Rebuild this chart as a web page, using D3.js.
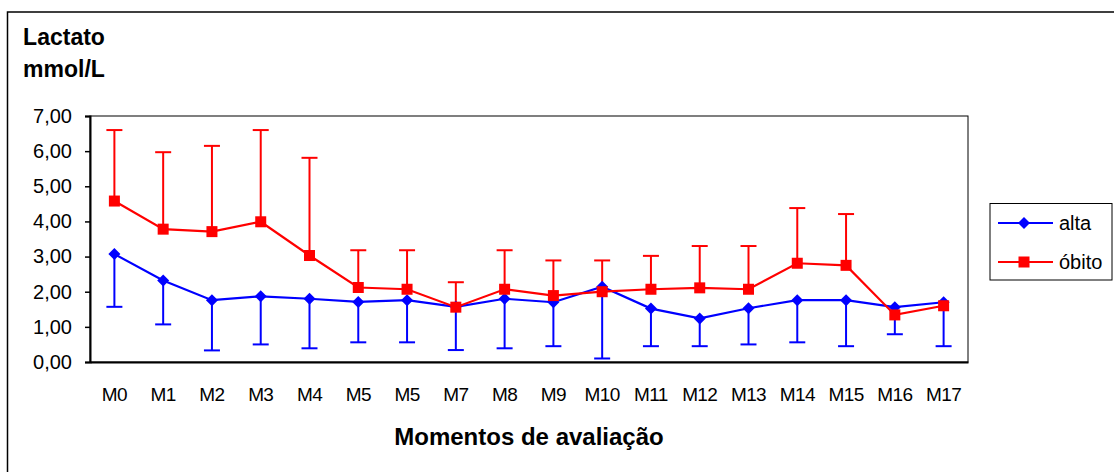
<!DOCTYPE html>
<html>
<head>
<meta charset="utf-8">
<script src="https://cdn.jsdelivr.net/npm/d3@7"></script>
<style>
  html, body { margin: 0; padding: 0; background: #fff; }
  svg { display: block; font-family: "Liberation Sans", Arial, sans-serif; }
</style>
</head>
<body>
<svg id="chart" width="1114" height="472"></svg>
<script>
// Moments of evaluation (M5 appears twice in the original labelling)
const categories = ["M0","M1","M2","M3","M4","M5","M5","M7","M8","M9","M10","M11","M12","M13","M14","M15","M16","M17"];

// Mean lactate (mmol/L) for discharged patients ("alta") and lower error limit
const alta      = [3.07,2.32,1.76,1.87,1.80,1.71,1.76,1.57,1.80,1.70,2.14,1.52,1.24,1.53,1.76,1.76,1.56,1.70];
const altaLower = [1.57,1.07,0.33,0.50,0.39,0.56,0.56,0.34,0.39,0.45,0.10,0.45,0.45,0.50,0.56,0.45,0.79,0.45];

// Mean lactate (mmol/L) for deaths ("óbito") and upper error limit
const obito      = [4.58,3.78,3.71,3.99,3.03,2.12,2.07,1.56,2.07,1.89,2.00,2.07,2.11,2.07,2.81,2.75,1.34,1.60];
const obitoUpper = [6.60,5.97,6.15,6.60,5.81,3.18,3.18,2.27,3.18,2.89,2.89,3.02,3.30,3.30,4.38,4.21,null,null];

const yTicks = [0,1,2,3,4,5,6,7];
const seriesNames = ["alta","óbito"];

const BLUE = "#0000ff", RED = "#ff0000";
const svg = d3.select("#chart");
const plot = { left: 90, right: 968, top: 116, bottom: 362 };

// Outer chart frame
svg.append("rect")
  .attr("x", 7.5).attr("y", 12).attr("width", 1120).attr("height", 480)
  .attr("fill", "#fff").attr("stroke", "#000").attr("stroke-width", 1.5);

const x = d3.scaleBand().domain(d3.range(categories.length)).range([plot.left, plot.right]);
const cx = i => x(i) + x.bandwidth() / 2;
const y = d3.scaleLinear().domain([0, 7]).range([plot.bottom, plot.top]);
const fmt = v => d3.format(".2f")(v).replace(".", ",");

// Plot area border
svg.append("rect")
  .attr("x", plot.left).attr("y", plot.top)
  .attr("width", plot.right - plot.left).attr("height", plot.bottom - plot.top)
  .attr("fill", "none").attr("stroke", "#000").attr("stroke-width", 1);

// Y axis
const yAxis = svg.append("g").attr("transform", `translate(${plot.left},0)`)
  .call(d3.axisLeft(y).tickValues(yTicks).tickFormat(fmt).tickSize(5).tickPadding(13));
yAxis.select(".domain").attr("stroke", "#000").attr("stroke-width", 2);
yAxis.selectAll(".tick line").attr("stroke", "#000").attr("stroke-width", 1.5);
yAxis.selectAll(".tick text")
  .attr("font-size", 20).attr("fill", "#000")
  .attr("font-family", "'Liberation Sans', Arial, sans-serif");

// X axis
const xAxis = svg.append("g").attr("transform", `translate(0,${plot.bottom})`)
  .call(d3.axisBottom(x).tickFormat(i => categories[i]).tickSize(0).tickPadding(0));
xAxis.select(".domain").attr("stroke", "#000").attr("stroke-width", 2);
xAxis.selectAll(".tick text")
  .attr("y", 39).attr("dy", 0)
  .attr("font-size", 19).attr("letter-spacing", "-0.6px").attr("fill", "#000")
  .attr("font-family", "'Liberation Sans', Arial, sans-serif");

// Error bars: blue downward, red upward
const capHalf = 8;
const errG = svg.append("g");
alta.forEach((v, i) => {
  const g = errG.append("g").attr("stroke", BLUE).attr("stroke-width", 2);
  g.append("line").attr("x1", cx(i)).attr("x2", cx(i)).attr("y1", y(v)).attr("y2", y(altaLower[i]));
  g.append("line").attr("x1", cx(i) - capHalf).attr("x2", cx(i) + capHalf).attr("y1", y(altaLower[i])).attr("y2", y(altaLower[i]));
});
obito.forEach((v, i) => {
  if (obitoUpper[i] == null) return;
  const g = errG.append("g").attr("stroke", RED).attr("stroke-width", 2);
  g.append("line").attr("x1", cx(i)).attr("x2", cx(i)).attr("y1", y(v)).attr("y2", y(obitoUpper[i]));
  g.append("line").attr("x1", cx(i) - capHalf).attr("x2", cx(i) + capHalf).attr("y1", y(obitoUpper[i])).attr("y2", y(obitoUpper[i]));
});

const line = d3.line().x((d, i) => cx(i)).y(d => y(d));
const diamond = d3.symbol().type(d3.symbolSquare).size(72);

// Series: alta (blue diamonds)
svg.append("path").datum(alta).attr("d", line)
  .attr("fill", "none").attr("stroke", BLUE).attr("stroke-width", 2.2);
svg.append("g").selectAll("path").data(alta).join("path")
  .attr("d", diamond)
  .attr("transform", (d, i) => `translate(${cx(i)},${y(d)}) rotate(45)`)
  .attr("fill", BLUE);

// Series: óbito (red squares)
svg.append("path").datum(obito).attr("d", line)
  .attr("fill", "none").attr("stroke", RED).attr("stroke-width", 2.2);
svg.append("g").selectAll("rect").data(obito).join("rect")
  .attr("x", (d, i) => cx(i) - 5.5).attr("y", d => y(d) - 5.5)
  .attr("width", 11).attr("height", 11)
  .attr("fill", RED);

// Titles
svg.append("text").attr("x", 64).attr("y", 45).attr("text-anchor", "middle")
  .attr("font-size", 23).attr("font-weight", "bold").text("Lactato");
svg.append("text").attr("x", 64).attr("y", 77).attr("text-anchor", "middle")
  .attr("font-size", 23).attr("font-weight", "bold").text("mmol/L");
svg.append("text").attr("x", (plot.left + plot.right) / 2).attr("y", 445).attr("text-anchor", "middle")
  .attr("font-size", 24).attr("font-weight", "bold").text("Momentos de avaliação");

// Legend
const legend = svg.append("g");
legend.append("rect").attr("x", 990).attr("y", 203.5).attr("width", 122).attr("height", 76.5)
  .attr("fill", "#fff").attr("stroke", "#000").attr("stroke-width", 1);
const legendY = [223, 262];
const legendColors = [BLUE, RED];
seriesNames.forEach((name, k) => {
  const ly = legendY[k];
  legend.append("line").attr("x1", 998).attr("x2", 1053).attr("y1", ly).attr("y2", ly)
    .attr("stroke", legendColors[k]).attr("stroke-width", 2);
  if (k === 0) {
    legend.append("path").attr("d", diamond).attr("transform", `translate(1024,${ly}) rotate(45)`).attr("fill", BLUE);
  } else {
    legend.append("rect").attr("x", 1024 - 5.5).attr("y", ly - 5.5).attr("width", 11).attr("height", 11).attr("fill", RED);
  }
  legend.append("text").attr("x", 1059).attr("y", ly + 7).attr("font-size", 20).attr("fill", "#000").text(name);
});
</script>
</body>
</html>
